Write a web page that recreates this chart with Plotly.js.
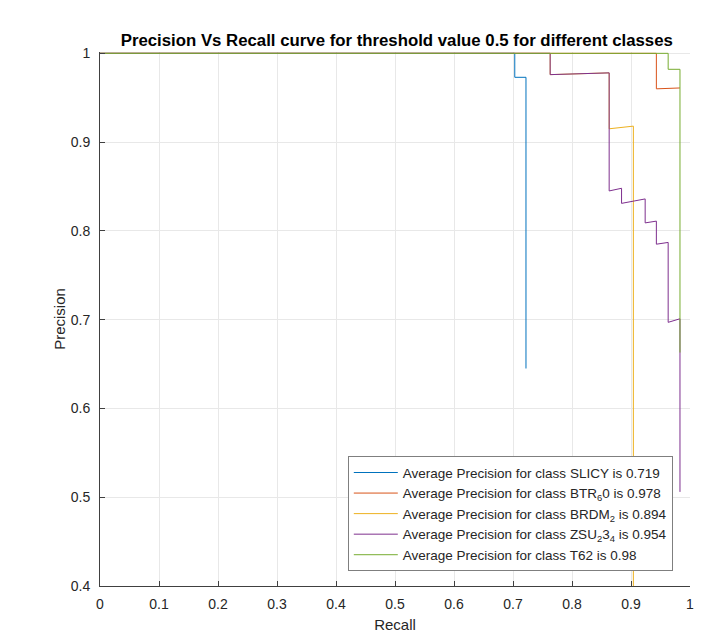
<!DOCTYPE html>
<html>
<head>
<meta charset="utf-8">
<script src="https://cdn.plot.ly/plotly-3.0.1.min.js"></script>
<style>html,body{margin:0;padding:0;background:#fff}#chart{width:720px;height:644px}</style>
</head>
<body>
<div id="chart"></div>
<script>
// Data (recall, precision step points)
const slicyRecall = [0, 0.703, 0.703, 0.722, 0.722];
const slicyPrecision = [1, 1, 0.973, 0.973, 0.645];

const btr60Recall = [0, 0.943, 0.943, 0.983];
const btr60Precision = [1, 1, 0.960, 0.961];

const brdm2Recall = [0, 0.763, 0.763, 0.863, 0.863, 0.904, 0.904];
const brdm2Precision = [1, 1, 0.976, 0.978, 0.915, 0.918, 0.4];

const zsu234Recall = [0, 0.763, 0.763, 0.863, 0.863, 0.884, 0.884, 0.924, 0.924, 0.943, 0.943, 0.963, 0.963, 0.983, 0.983];
const zsu234Precision = [1, 1, 0.976, 0.978, 0.845, 0.848, 0.831, 0.836, 0.809, 0.811, 0.785, 0.787, 0.697, 0.701, 0.506];

const t62Recall = [0, 0.963, 0.963, 0.983, 0.983];
const t62Precision = [1, 1, 0.982, 0.982, 0.663];

const legendNames = [
  'Average Precision for class SLICY is 0.719',
  'Average Precision for class BTR<sub>6</sub>0 is 0.978',
  'Average Precision for class BRDM<sub>2</sub> is 0.894',
  'Average Precision for class ZSU<sub>2</sub>3<sub>4</sub> is 0.954',
  'Average Precision for class T62 is 0.98'
];
const colors = ['#0072BD', '#D95319', '#EDB120', '#7E2F8E', '#77AC30'];

const xTickVals = [0, 0.1, 0.2, 0.3, 0.4, 0.5, 0.6, 0.7, 0.8, 0.9, 1];
const xTickText = ['0', '0.1', '0.2', '0.3', '0.4', '0.5', '0.6', '0.7', '0.8', '0.9', '1'];
const yTickVals = [0.4, 0.5, 0.6, 0.7, 0.8, 0.9, 1];
const yTickText = ['0.4', '0.5', '0.6', '0.7', '0.8', '0.9', '1'];

const series = [
  [slicyRecall, slicyPrecision],
  [btr60Recall, btr60Precision],
  [brdm2Recall, brdm2Precision],
  [zsu234Recall, zsu234Precision],
  [t62Recall, t62Precision]
];

const traces = series.map((s, i) => ({
  x: s[0], y: s[1], type: 'scatter', mode: 'lines',
  name: legendNames[i],
  line: {color: colors[i], width: 1}
}));

const font = 'Liberation Sans, Arial, sans-serif';
const layout = {
  width: 720, height: 644,
  paper_bgcolor: '#fff', plot_bgcolor: '#fff',
  margin: {l: 100, r: 30, t: 52, b: 58},
  font: {family: font, color: '#262626', size: 14},
  title: {
    text: '<b>Precision Vs Recall curve for threshold value 0.5 for different classes</b>',
    font: {family: font, size: 16.8, color: '#000'},
    x: 0.503, xanchor: 'center', xref: 'paper',
    y: 1 - 40 / 644, yref: 'container', yanchor: 'middle'
  },
  xaxis: {
    range: [0, 1], tickvals: xTickVals, ticktext: xTickText,
    ticks: 'inside', ticklen: 5, tickcolor: '#404040',
    showline: true, linecolor: '#404040', linewidth: 1,
    showgrid: true, gridcolor: '#e8e8e8', zeroline: false,
    tickfont: {size: 14, color: '#262626'},
    ticklabelstandoff: 5,
    title: {text: 'Recall', font: {size: 15, color: '#262626'}, standoff: 8}
  },
  yaxis: {
    range: [0.4, 1.0015], tickvals: yTickVals, ticktext: yTickText,
    ticks: 'inside', ticklen: 5, tickcolor: '#404040',
    showline: true, linecolor: '#404040', linewidth: 1,
    showgrid: true, gridcolor: '#e8e8e8', zeroline: false,
    tickfont: {size: 14, color: '#262626'},
    ticklabelstandoff: 6,
    title: {text: 'Precision', font: {size: 15, color: '#262626'}, standoff: 1}
  },
  showlegend: true,
  legend: {
    x: 0.42, y: 0.243, xanchor: 'left', yanchor: 'top',
    bgcolor: '#fff', bordercolor: '#7f7f7f', borderwidth: 1,
    font: {size: 13.5, color: '#262626'},
    itemwidth: 44, tracegroupgap: 0
  }
};

Plotly.newPlot('chart', traces, layout, {displayModeBar: false, staticPlot: true});
</script>
</body>
</html>
